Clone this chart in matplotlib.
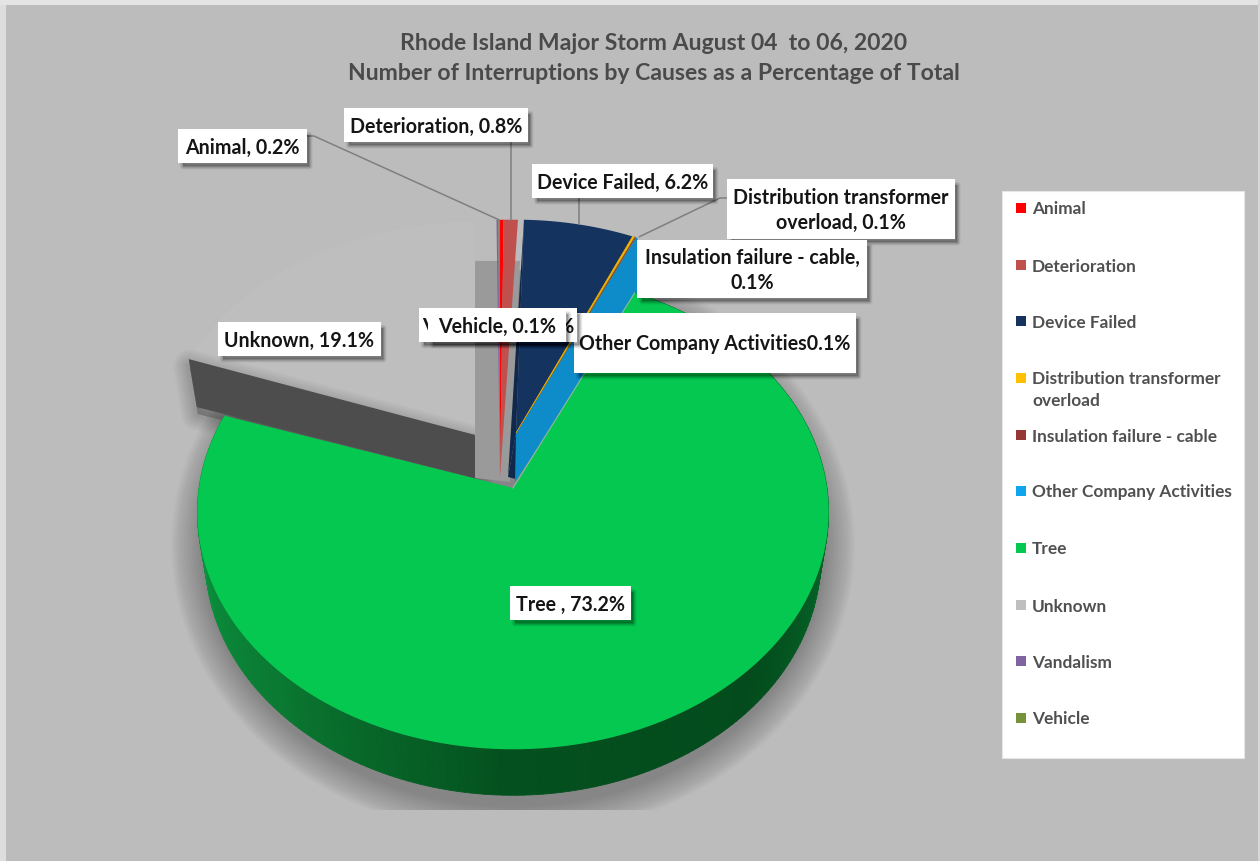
import numpy as np
import matplotlib
matplotlib.use('Agg')
import matplotlib.pyplot as plt
from matplotlib.collections import PolyCollection
from matplotlib.colors import to_rgb
from matplotlib.patches import Ellipse, Polygon, Rectangle

plt.rcParams['font.family'] = ['Lato', 'DejaVu Sans']

causes = ['Animal', 'Deterioration', 'Device Failed', 'Distribution transformer overload',
          'Insulation failure - cable', 'Other Company Activities', 'Tree', 'Unknown',
          'Vandalism', 'Vehicle']
percent = [0.2, 0.8, 6.2, 0.1, 0.1, 0.1, 73.2, 19.1, 0.1, 0.1]
label_texts = ['Animal, 0.2%', 'Deterioration, 0.8%', 'Device Failed, 6.2%',
               'Distribution transformer\noverload, 0.1%', 'Insulation failure - cable,\n0.1%',
               'Other Company Activities0.1%', 'Tree , 73.2%', 'Unknown, 19.1%',
               'Vandalism, 0.1%', 'Vehicle, 0.1%']
legend_colors = ['#FF0000', '#C0504D', '#14335F', '#FFC000', '#953735',
                 '#0FA5EC', '#05C850', '#BFBFBF', '#8064A2', '#76933C']

BG = '#BCBCBC'
# pie projection, all in pixels
R, K, P = 314.0, 0.748, 0.101
START = -2.0
CX = 513.0
DEPTH = 46.0
SHRINK = 0.975

edges = START + 3.6 * np.concatenate([[0], np.cumsum(percent)])
slice_range = {c: (edges[i], edges[i + 1]) for i, c in enumerate(causes)}


def rim(deg, apex):
    a = np.radians(deg)
    s = 1 / (1 + P * np.cos(a))
    return np.column_stack([apex[0] + R * np.sin(a) * s, apex[1] - R * K * np.cos(a) * s])


def lower(pts):
    # same points on the underside of the disc
    pts = np.atleast_2d(pts)
    return np.column_stack([CX + (pts[:, 0] - CX) * SHRINK, pts[:, 1] + DEPTH])


def arc(cause, apex, n=60):
    a, b = slice_range[cause]
    return rim(np.linspace(a, b, n), apex)


def soft_shadow(ax, xy, z, width=14, strength=0.012, dx=0, dy=0, inner=0):
    # stacked outlines fake a blurred drop shadow
    pts = np.asarray(xy, dtype=float) + [dx, dy]
    for w in np.linspace(width, inner, 12):
        ax.add_patch(Polygon(pts, closed=True, fc='k', ec='k', lw=w, alpha=strength, zorder=z, joinstyle='round'))


fig = plt.figure(figsize=(12.6, 8.61), dpi=100, facecolor=BG)
ax = fig.add_axes([0, 0, 1, 1])
ax.set_xlim(0, 1260)
ax.set_ylim(861, 0)
ax.axis('off')

# pale scan strips along the picture edge
ax.add_patch(Rectangle((0, 0), 6, 861, fc='#DDDDDD', ec='none', zorder=0.5))
ax.add_patch(Rectangle((0, 0), 1260, 4.5, fc='#E4E4E4', ec='none', zorder=0.5))
ax.add_patch(Rectangle((1258, 0), 2, 861, fc='#D8D8D8', ec='none', zorder=0.5))

# shadow under the disc, cut off flat at the bottom
clip = Rectangle((0, 270), 1260, 540, transform=ax.transData)
for grow in np.linspace(30, 0, 24):
    e = Ellipse((CX, 545), 2 * (312 + grow), 2 * (262 + grow), fc='k', ec='none', alpha=0.011, zorder=1)
    ax.add_patch(e)
    e.set_clip_path(clip)

# Unknown: top face is nearly the page colour, walls carry the shape
apex_unknown = (475.0, 435.0)
rim_u = arc('Unknown', apex_unknown)
top_u = np.vstack([[apex_unknown], rim_u, [(apex_unknown[0], rim_u[-1, 1])]])
corner_u = rim(slice_range['Unknown'][0] + 1, apex_unknown)[0]
wall_front = np.array([corner_u, apex_unknown, (apex_unknown[0], apex_unknown[1] + 43),
                       lower(corner_u)[0] + [0, 2]])
ax.add_patch(Polygon(top_u, closed=True, fc='#BEBEBE', ec='none', zorder=2))
soft_shadow(ax, wall_front + [4, 2], 2.05, width=24, strength=0.014, dx=-3, dy=5, inner=4)
ax.add_patch(Polygon(wall_front, closed=True, fc='#4D4D4D', ec='none', zorder=2.1))
wall_top = rim_u[-1, 1] + 39
wall_side = [(apex_unknown[0], wall_top), (apex_unknown[0] + 45, wall_top),
             (apex_unknown[0] + 35, apex_unknown[1] + 47), (apex_unknown[0], apex_unknown[1] + 43)]
ax.add_patch(Polygon(wall_side, closed=True, fc='#9A9A9A', ec='none', zorder=2.2))

# slim far slices taper down to a shared point on the underside
apex_far = (510.0, 433.0)
foot_far = (500.0, 477.0)
for c, z in [('Vehicle', 3.0), ('Vandalism', 3.0), ('Animal', 3.1), ('Deterioration', 3.2)]:
    col = legend_colors[causes.index(c)]
    ax.add_patch(Polygon(np.vstack([arc(c, apex_far, 8), [foot_far]]), closed=True, fc=col, ec='none', zorder=z))

# Device Failed and the three thin slices next to it
apex_dev = (516.0, 433.0)
foot_dev = (508.0, 477.0)
rim_d = arc('Device Failed', apex_dev)
ax.add_patch(Polygon([rim_d[0], apex_dev, foot_dev], closed=True, fc='#10284B', ec='none', zorder=4))
ax.add_patch(Polygon(np.vstack([[apex_dev], rim_d]), closed=True, fc='#14335F', ec='none', zorder=4.1))
ax.add_patch(Polygon([rim_d[-1], apex_dev, foot_dev, lower(apex_dev)[0]], closed=True, fc='#10284B', ec='none', zorder=4.05))

rim_o = rim(np.array(slice_range['Other Company Activities']), apex_dev)
foot_o = (515.0, 482.0)
ax.add_patch(Polygon([rim_o[0], rim_o[1], rim_o[1] + [2, DEPTH + 10], foot_o, apex_dev], closed=True,
                     fc='#0E8BC9', ec='none', zorder=4.2))
rim_t = arc('Distribution transformer overload', apex_dev, 4)
ax.add_patch(Polygon(np.vstack([[apex_dev], rim_t]), closed=True, fc='#FFC000', ec='#E8A800', lw=0.5, zorder=4.3))
rim_i = arc('Insulation failure - cable', apex_dev, 4)
ax.add_patch(Polygon(np.vstack([[apex_dev], rim_i]), closed=True, fc='#953735', ec='#7A6A40', lw=0.5, zorder=4.25))

# Tree: side wall in shaded strips, then the top face
apex_tree = (CX, 488.0)
tree_deg = np.linspace(*slice_range['Tree'], 240)
rim_tree = rim(tree_deg, apex_tree)
under_tree = lower(rim_tree)
shade_deg = [25, 90, 135, 180, 225, 270, 300]
shade_col = np.array([to_rgb(c) for c in ['#06702C', '#06702C', '#034B1C', '#04501E', '#0A7A32', '#0B9A42', '#0B9A42']])
quads, quad_cols = [], []
for i in range(len(tree_deg) - 1):
    quads.append([rim_tree[i], rim_tree[i + 1], under_tree[i + 1], under_tree[i]])
    quad_cols.append([np.interp(tree_deg[i], shade_deg, shade_col[:, j]) for j in range(3)])
ax.add_collection(PolyCollection(quads, facecolors=quad_cols, edgecolors=quad_cols, linewidths=0.6, zorder=5))
ax.add_patch(Polygon(np.vstack([[apex_tree], rim_tree]), closed=True, fc=legend_colors[6], ec='none', zorder=5.1))
ax.plot([apex_tree[0], rim_tree[0, 0]], [apex_tree[1], rim_tree[0, 1]], color='#8FB8A0', lw=0.8, zorder=5.2)

# leader lines from labels to slices
LINE = '#7F7F7F'
mid = {c: rim(np.mean(slice_range[c]), apex_far if c in ('Animal', 'Deterioration') else apex_dev)[0]
       for c in ('Animal', 'Deterioration', 'Device Failed', 'Distribution transformer overload')}
ax.plot([307, 314, mid['Animal'][0] - 3], [136, 136, mid['Animal'][1]], color=LINE, lw=1.1, zorder=6)
ax.plot([mid['Deterioration'][0], mid['Deterioration'][0]], [142, mid['Deterioration'][1]], color=LINE, lw=1.1, zorder=6)
ax.plot([mid['Device Failed'][0], mid['Device Failed'][0]], [198, mid['Device Failed'][1]], color=LINE, lw=1.1, zorder=6)
ax.plot([727, 720, mid['Distribution transformer overload'][0] + 6], [198, 198, mid['Distribution transformer overload'][1]],
        color=LINE, lw=1.1, zorder=6)

# label boxes: left, top, right, bottom
boxes = {'Animal': (178, 129, 307, 163), 'Deterioration': (344, 108, 528, 142),
         'Device Failed': (532, 164, 713, 198), 'Distribution transformer overload': (727, 179, 955, 239),
         'Insulation failure - cable': (637, 240, 867, 298), 'Other Company Activities': (574, 313, 856, 373),
         'Tree': (510, 586, 631, 620), 'Unknown': (218, 322, 381, 356),
         'Vandalism': (419, 308, 577, 342), 'Vehicle': (428, 308, 566, 342)}
label_size = {'Vandalism': 15}
draw_order = ['Animal', 'Deterioration', 'Device Failed', 'Distribution transformer overload',
              'Insulation failure - cable', 'Other Company Activities', 'Tree', 'Unknown', 'Vandalism', 'Vehicle']
for n, c in enumerate(draw_order):
    x0, y0, x1, y1 = boxes[c]
    z = 7 + n * 0.1
    # shadow falls to the lower right only, so a box on a box shows no seam on the left
    soft_shadow(ax, [(x0 + 3, y0 + 3), (x1, y0 + 3), (x1, y1), (x0 + 3, y1)], z, width=5, strength=0.022, dx=2, dy=3)
    ax.add_patch(Rectangle((x0, y0), x1 - x0, y1 - y0, fc='white', ec='none', zorder=z + 0.01))
    ax.text((x0 + x1) / 2, (y0 + y1) / 2 + 1.5, label_texts[causes.index(c)], ha='center', va='center',
            fontsize=label_size.get(c, 14.1), fontweight='bold', color='#151515', linespacing=1.28, zorder=z + 0.02)

# legend panel
ax.add_patch(Rectangle((1002, 191), 242, 567, fc='white', ec='#E6E6E6', lw=0.8, zorder=6))
legend_y = [208, 265, 321, 378, 435, 491, 548, 605, 661, 718]
legend_names = list(causes)
legend_names[3] = 'Distribution transformer\noverload'
for name, col, y in zip(legend_names, legend_colors, legend_y):
    ax.add_patch(Rectangle((1016, y - 5), 10, 10, fc=col, ec='none', zorder=6.1))
    ax.text(1032, y - 6.5, name, ha='left', va='top', fontsize=12.4, fontweight='bold', color='#505050',
            linespacing=1.42, zorder=6.2)

ax.text(654, 43.5, 'Rhode Island Major Storm August 04  to 06, 2020', ha='center', va='center', fontsize=16.6,
        fontweight='bold', color='#4A4A4A')
ax.text(654, 73, 'Number of Interruptions by Causes as a Percentage of Total', ha='center', va='center', fontsize=16.6,
        fontweight='bold', color='#4A4A4A')

fig.savefig('out.png', dpi=100, facecolor=BG)
